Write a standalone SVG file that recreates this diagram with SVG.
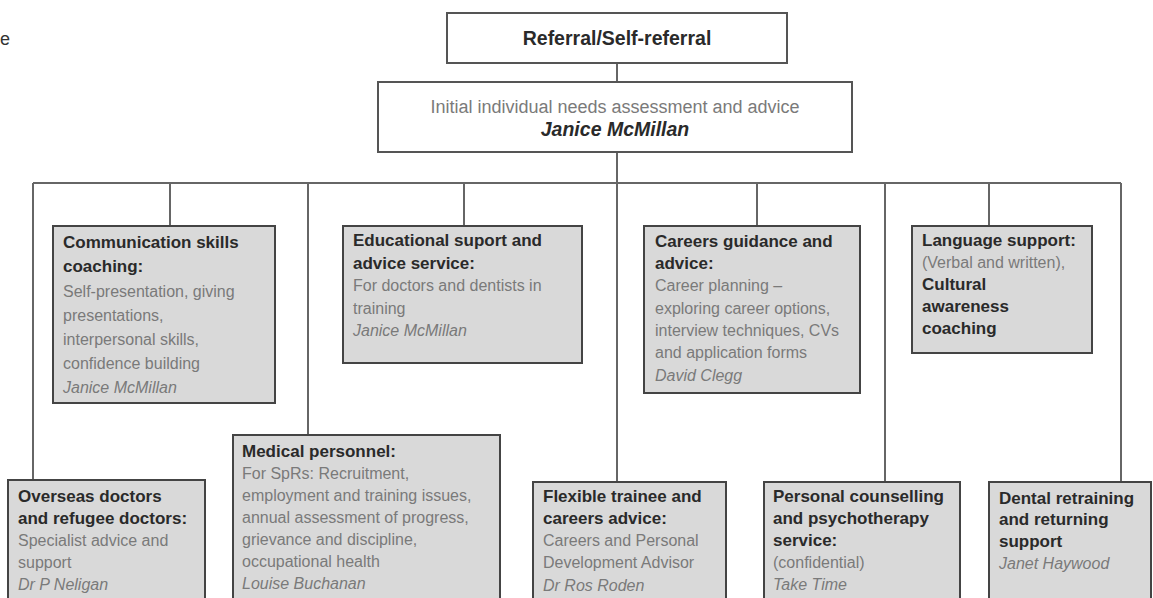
<svg xmlns="http://www.w3.org/2000/svg" width="1153" height="598" viewBox="0 0 1153 598">
<style>
text{font-family:"Liberation Sans",Arial,sans-serif;}
.top{fill:#fff;stroke:#555;stroke-width:2;}
.box{fill:#d9d9d9;stroke:#444;stroke-width:2;}
.ln{stroke:#666;stroke-width:2;fill:none;}
.h{font-weight:bold;font-size:17px;fill:#2a2a2a;}
.b{font-size:16px;fill:#7a7a7a;}
.n{font-size:16px;font-style:italic;fill:#7a7a7a;}
</style>
<rect width="1153" height="598" fill="#fff"/>
<text x="0" y="45" style="font-size:18px;fill:#333">e</text>
<g id="connectors" class="ln">
<path d="M617 63V82M617 152V183M33 183H1121M33 183V480M170 183V226M308 183V435M464 183V226M617 183V482M757 183V226M885 183V482M989 183V226M1121 183V482"/>
</g>
<g id="referral">
<rect class="top" x="447" y="13" width="340" height="50"/>
<text x="617" y="45" text-anchor="middle" style="font-weight:bold;font-size:19.5px;fill:#2a2a2a">Referral/Self-referral</text>
</g>
<g id="assessment">
<rect class="top" x="378" y="82" width="474" height="70"/>
<text x="615" y="113" text-anchor="middle" style="font-size:18px;fill:#7a7a7a">Initial individual needs assessment and advice</text>
<text x="615" y="136" text-anchor="middle" style="font-size:19.5px;font-weight:bold;font-style:italic;fill:#2a2a2a">Janice McMillan</text>
</g>
<g id="communication">
<rect class="box" x="53" y="226" width="222" height="177"/>
<text class="h" x="63" y="248">Communication skills</text>
<text class="h" x="63" y="272">coaching:</text>
<text class="b" x="63" y="297">Self-presentation, giving</text>
<text class="b" x="63" y="321">presentations,</text>
<text class="b" x="63" y="345">interpersonal skills,</text>
<text class="b" x="63" y="369">confidence building</text>
<text class="n" x="63" y="393">Janice McMillan</text>
</g>
<g id="educational">
<rect class="box" x="343" y="226" width="239" height="137"/>
<text class="h" x="353" y="246">Educational suport and</text>
<text class="h" x="353" y="269">advice service:</text>
<text class="b" x="353" y="291">For doctors and dentists in</text>
<text class="b" x="353" y="314">training</text>
<text class="n" x="353" y="336">Janice McMillan</text>
</g>
<g id="careers">
<rect class="box" x="644" y="226" width="216" height="167"/>
<text class="h" x="655" y="247">Careers guidance and</text>
<text class="h" x="655" y="269">advice:</text>
<text class="b" x="655" y="291">Career planning –</text>
<text class="b" x="655" y="314">exploring career options,</text>
<text class="b" x="655" y="336">interview techniques, CVs</text>
<text class="b" x="655" y="358">and application forms</text>
<text class="n" x="655" y="381">David Clegg</text>
</g>
<g id="language">
<rect class="box" x="912" y="226" width="180" height="127"/>
<text class="h" x="922" y="246">Language support:</text>
<text class="b" x="922" y="268">(Verbal and written),</text>
<text class="h" x="922" y="290">Cultural</text>
<text class="h" x="922" y="312">awareness</text>
<text class="h" x="922" y="334">coaching</text>
</g>
<g id="overseas">
<rect class="box" x="8" y="480" width="197" height="130"/>
<text class="h" x="18" y="502">Overseas doctors</text>
<text class="h" x="18" y="524">and refugee doctors:</text>
<text class="b" x="18" y="546">Specialist advice and</text>
<text class="b" x="18" y="568">support</text>
<text class="n" x="18" y="590">Dr P Neligan</text>
</g>
<g id="medical">
<rect class="box" x="233" y="435" width="267" height="175"/>
<text class="h" x="242" y="457">Medical personnel:</text>
<text class="b" x="242" y="479">For SpRs: Recruitment,</text>
<text class="b" x="242" y="501">employment and training issues,</text>
<text class="b" x="242" y="523">annual assessment of progress,</text>
<text class="b" x="242" y="545">grievance and discipline,</text>
<text class="b" x="242" y="567">occupational health</text>
<text class="n" x="242" y="589">Louise Buchanan</text>
</g>
<g id="flexible">
<rect class="box" x="533" y="482" width="193" height="128"/>
<text class="h" x="543" y="502">Flexible trainee and</text>
<text class="h" x="543" y="524">careers advice:</text>
<text class="b" x="543" y="546">Careers and Personal</text>
<text class="b" x="543" y="568">Development Advisor</text>
<text class="n" x="543" y="591">Dr Ros Roden</text>
</g>
<g id="counselling">
<rect class="box" x="764" y="482" width="196" height="128"/>
<text class="h" x="773" y="502">Personal counselling</text>
<text class="h" x="773" y="524">and psychotherapy</text>
<text class="h" x="773" y="546">service:</text>
<text class="b" x="773" y="568">(confidential)</text>
<text class="n" x="773" y="590">Take Time</text>
</g>
<g id="dental">
<rect class="box" x="989" y="482" width="162" height="128"/>
<text class="h" x="999" y="504">Dental retraining</text>
<text class="h" x="999" y="525">and returning</text>
<text class="h" x="999" y="547">support</text>
<text class="n" x="999" y="569">Janet Haywood</text>
</g>
</svg>
